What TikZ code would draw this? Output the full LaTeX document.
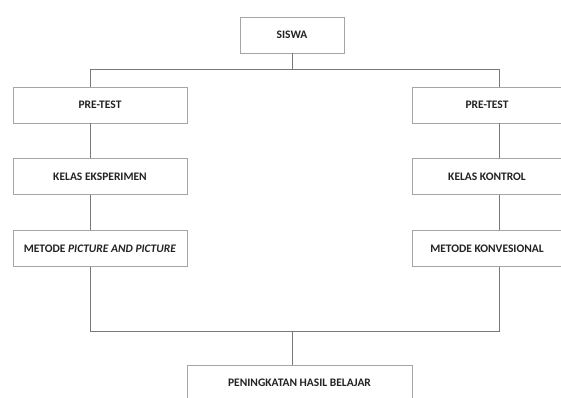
\documentclass[tikz,border=0pt]{standalone}
\usepackage{fontspec}
\setmainfont{Carlito}
\usepackage{xcolor}
\usepackage{tikz}
\usetikzlibrary{positioning,calc}
\definecolor{boxline}{RGB}{165,165,165}
\definecolor{connline}{RGB}{120,120,120}
\definecolor{boxtext}{RGB}{35,35,35}

\begin{document}
\begin{tikzpicture}[
  x=1pt, y=1pt,
  node distance=35pt and 20pt,
  box/.style={draw=boxline, line width=0.8pt, text=boxtext,
    font=\fontsize{11.5}{13}\selectfont\bfseries,
    minimum height=36pt, inner sep=2pt, fill=white},
  conn/.style={connline, line width=0.8pt}
]
\clip (0,0) rectangle (561,-398);
\fill[white] (0,0) rectangle (561,-398);

\node[box, minimum width=104pt] (siswa) at (292,-35) {SISWA};
\node[box, minimum width=174pt] (preE) at (100,-105) {PRE-TEST};
\node[box, minimum width=174pt, below=of preE] (kelasE) {KELAS EKSPERIMEN};
\node[box, minimum width=174pt, below=of kelasE] (metodeE) {METODE \textit{PICTURE AND PICTURE}};
\node[box, minimum width=150pt] (preK) at (487,-105) {PRE-TEST};
\node[box, minimum width=150pt, below=of preK] (kelasK) {KELAS KONTROL};
\node[box, minimum width=150pt, below=of kelasK] (metodeK) {METODE KONVESIONAL};
\node[box, minimum width=225pt] (hasil) at (299.5,-383) {PENINGKATAN HASIL BELAJAR};

\coordinate (busL) at (90,-69.5);
\coordinate (busR) at (499,-69.5);
\coordinate (baseL) at (90,-331);
\coordinate (baseR) at (499,-331);

\draw[conn] (siswa.south) -- (siswa.south |- busL);
\draw[conn] (preE.north -| busL) -- (busL) -- (busR) -- (preK.north -| busR);
\draw[conn] (preE.south -| busL) -- (kelasE.north -| busL);
\draw[conn] (kelasE.south -| busL) -- (metodeE.north -| busL);
\draw[conn] (preK.south -| busR) -- (kelasK.north -| busR);
\draw[conn] (kelasK.south -| busR) -- (metodeK.north -| busR);
\draw[conn] (metodeE.south -| baseL) -- (baseL) -- (baseR) -- (metodeK.south -| baseR);
\draw[conn] (siswa.south |- baseL) -- (siswa.south |- hasil.north);
\end{tikzpicture}
\end{document}
